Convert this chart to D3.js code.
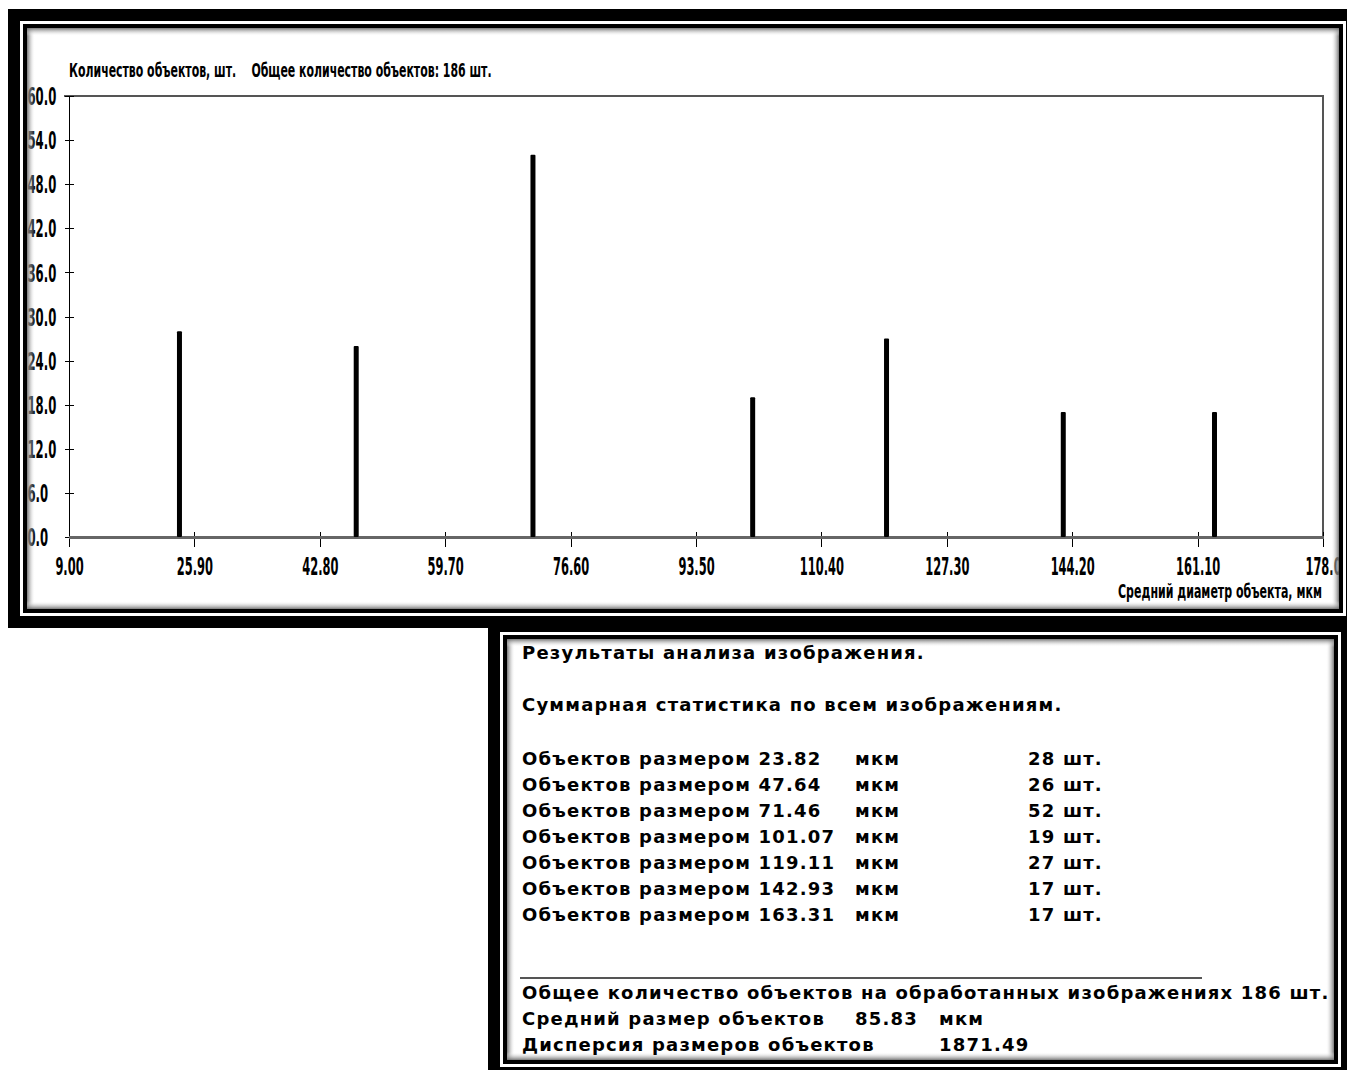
<!DOCTYPE html>
<meta charset="utf-8">
<style>
body { margin: 0; background: #fff; }
svg { display: block; }
.narrow { font-family: 'Liberation Sans Narrow', 'DejaVu Sans Condensed', 'Arial Narrow', sans-serif; font-weight: bold; fill: #000; white-space: pre; }
.report { font-family: 'DejaVu Sans', 'Verdana', sans-serif; font-weight: bold; font-size: 18px; letter-spacing: 1.2px; fill: #000; }
.axis .domain { display: none; }
.axis line { stroke: #000; stroke-width: 1px; shape-rendering: crispEdges; }
</style>
<svg width="1347" height="1070"></svg>
<script src="https://cdnjs.cloudflare.com/ajax/libs/d3/7.8.5/d3.min.js"></script>
<script>
// object sizes (mkm) and counts
var sizes  = [23.82, 47.64, 71.46, 101.07, 119.11, 142.93, 163.31];
var counts = [28, 26, 52, 19, 27, 17, 17];

var xTicks = [9.00, 25.90, 42.80, 59.70, 76.60, 93.50, 110.40, 127.30, 144.20, 161.10, 178.0];
var xTickLabels = ["9.00", "25.90", "42.80", "59.70", "76.60", "93.50", "110.40", "127.30", "144.20", "161.10", "178.0"];
var yTicks = [0, 6, 12, 18, 24, 30, 36, 42, 48, 54, 60];

var totalCount = 186, meanSize = "85.83", sizeVariance = "1871.49";

var svg = d3.select("svg");

var x = d3.scaleLinear().domain([9, 178]).range([69, 1323]);
var y = d3.scaleLinear().domain([0, 60]).range([537, 96]);

// squeeze a text horizontally so it spans the given width
function squeeze(t, left, baseline, width) {
  t.attr("x", 0).attr("y", 0);
  var w = t.node().getComputedTextLength();
  t.attr("transform", "translate(" + left + "," + baseline + ") scale(" + (width / w) + ",1)");
}

svg.append("rect").attr("width", 1347).attr("height", 1070).attr("fill", "#fff");

var defs = svg.append("defs");
[["gl", 0, 0, 1, 0], ["gr", 1, 0, 0, 0], ["gt", 0, 0, 0, 1], ["gb", 0, 1, 0, 0]].forEach(function(g) {
  var lg = defs.append("linearGradient").attr("id", g[0])
    .attr("x1", g[1]).attr("y1", g[2]).attr("x2", g[3]).attr("y2", g[4]);
  lg.append("stop").attr("offset", 0).attr("stop-color", "#6a6a6a").attr("stop-opacity", 0.9);
  lg.append("stop").attr("offset", 0.5).attr("stop-color", "#b8b8b8").attr("stop-opacity", 0.5);
  lg.append("stop").attr("offset", 1).attr("stop-color", "#fff").attr("stop-opacity", 0);
});

// ---- chart ----
var chart = svg.append("g");

squeeze(chart.append("text").attr("class", "narrow").attr("font-size", 19)
    .text("Количество объектов, шт.    Общее количество объектов: " + totalCount + " шт."), 69, 77, 423);

chart.append("line").attr("x1", 64).attr("x2", 1324).attr("y1", 96).attr("y2", 96)
    .attr("stroke", "#555").attr("stroke-width", 2);
chart.append("line").attr("x1", 1323).attr("x2", 1323).attr("y1", 95).attr("y2", 538)
    .attr("stroke", "#555").attr("stroke-width", 2);
chart.append("line").attr("x1", 69.5).attr("x2", 69.5).attr("y1", 96).attr("y2", 540)
    .attr("stroke", "#000").attr("stroke-width", 1);

var yAxis = chart.append("g").attr("class", "axis")
    .attr("transform", "translate(69.5,0)")
    .call(d3.axisLeft(y).tickValues(yTicks).tickSizeInner(5).tickSizeOuter(0).tickFormat(d3.format(".1f")));
yAxis.selectAll(".tick line").attr("x2", -5).attr("x1", 4);
yAxis.selectAll(".tick text")
    .attr("class", "narrow").attr("font-size", 24).attr("text-anchor", "start")
    .attr("x", 0).attr("dy", "0.36em")
    .attr("transform", "translate(-42,0) scale(0.54,1)");

var xAxis = chart.append("g").attr("class", "axis")
    .attr("transform", "translate(0,537)")
    .call(d3.axisBottom(x).tickValues(xTicks).tickSizeInner(10).tickSizeOuter(0)
      .tickFormat(function(d, i) { return xTickLabels[i]; }));
xAxis.selectAll(".tick line").attr("y1", -5).attr("y2", 10);
xAxis.selectAll(".tick text")
    .attr("class", "narrow").attr("font-size", 24).attr("text-anchor", "middle")
    .attr("y", 0).attr("dy", 0)
    .attr("transform", "translate(0,38) scale(0.53,1)");

chart.append("line").attr("x1", 69).attr("x2", 1324).attr("y1", 537.5).attr("y2", 537.5)
    .attr("stroke", "#666").attr("stroke-width", 3);

squeeze(chart.append("text").attr("class", "narrow").attr("font-size", 19)
    .text("Средний диаметр объекта, мкм"), 1118, 598, 204);

// bars
chart.selectAll(".bar")
    .data(sizes)
  .enter().append("rect")
    .attr("class", "bar")
    .attr("x", function(d) { return x(d) - 2; })
    .attr("width", 5)
    .attr("y", function(d, i) { return y(counts[i]); })
    .attr("height", function(d, i) { return y(0) - y(counts[i]); })
    .attr("rx", 1)
    .attr("fill", "#000");

// ---- frames ----
function frame(x0, y0, x1, y1) {
  var g = svg.append("g");
  var ix0 = x0 + 19, iy0 = y0 + 19, ix1 = x1 - 19, iy1 = y1 - 19;
  g.append("path")
    .attr("fill-rule", "evenodd").attr("fill", "#000")
    .attr("d", "M" + x0 + "," + y0 + "H" + x1 + "V" + y1 + "H" + x0 + "Z" +
               "M" + ix0 + "," + iy0 + "H" + ix1 + "V" + iy1 + "H" + ix0 + "Z");
  g.append("rect")
    .attr("x", x0 + 13.5).attr("y", y0 + 13.5)
    .attr("width", x1 - x0 - 27).attr("height", y1 - y0 - 27)
    .attr("fill", "none").attr("stroke", "#fff").attr("stroke-width", 3);
  var s = 8;
  g.append("rect").attr("x", ix0).attr("y", iy0).attr("width", s).attr("height", iy1 - iy0).attr("fill", "url(#gl)");
  g.append("rect").attr("x", ix1 - s).attr("y", iy0).attr("width", s).attr("height", iy1 - iy0).attr("fill", "url(#gr)");
  g.append("rect").attr("x", ix0).attr("y", iy0).attr("width", ix1 - ix0).attr("height", s).attr("fill", "url(#gt)");
  g.append("rect").attr("x", ix0).attr("y", iy1 - s).attr("width", ix1 - ix0).attr("height", s).attr("fill", "url(#gb)");
}
frame(8, 9, 1358, 628);

// ---- report panel ----
svg.append("rect").attr("x", 488).attr("y", 620).attr("width", 870).attr("height", 460).attr("fill", "#fff");
frame(488, 620, 1353, 1079);

var rep = svg.append("g").attr("class", "report");
rep.append("text").attr("x", 522).attr("y", 659).text("Результаты анализа изображения.");
rep.append("text").attr("x", 522).attr("y", 711).text("Суммарная статистика по всем изображениям.");

var rows = rep.selectAll(".row")
    .data(sizes)
  .enter().append("g")
    .attr("class", "row")
    .attr("transform", function(d, i) { return "translate(0," + (765 + i * 26) + ")"; });
rows.append("text").attr("x", 522).text(function(d) { return "Объектов размером " + d3.format(".2f")(d); });
rows.append("text").attr("x", 855).text("мкм");
rows.append("text").attr("x", 1028).text(function(d, i) { return counts[i] + " шт."; });

svg.append("line").attr("x1", 520).attr("x2", 1202).attr("y1", 978).attr("y2", 978)
    .attr("stroke", "#555").attr("stroke-width", 2);

rep.append("text").attr("x", 522).attr("y", 999)
    .text("Общее количество объектов на обработанных изображениях " + totalCount + " шт.");
rep.append("text").attr("x", 522).attr("y", 1025).text("Средний размер объектов");
rep.append("text").attr("x", 855).attr("y", 1025).text(meanSize);
rep.append("text").attr("x", 939).attr("y", 1025).text("мкм");
rep.append("text").attr("x", 522).attr("y", 1051).text("Дисперсия размеров объектов");
rep.append("text").attr("x", 939).attr("y", 1051).text(sizeVariance);
</script>
